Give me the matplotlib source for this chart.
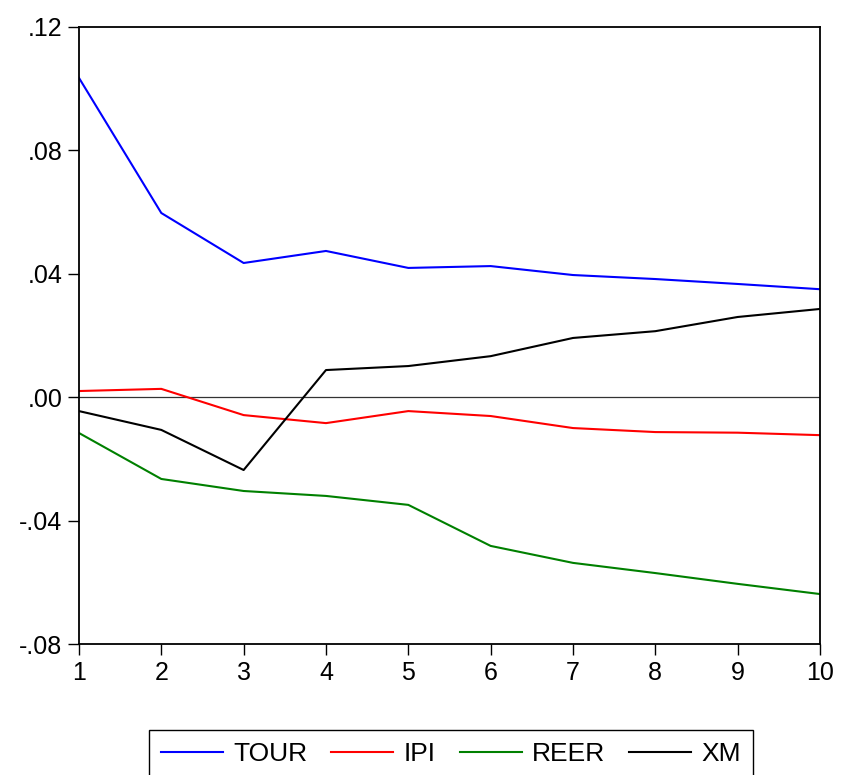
import numpy as np
import matplotlib.pyplot as plt

plt.rcParams['font.family'] = ['Liberation Sans', 'DejaVu Sans']

# response periods
periods = [1, 2, 3, 4, 5, 6, 7, 8, 9, 10]

# impulse responses
tour = [0.1035, 0.0597, 0.0435, 0.0474, 0.0419, 0.0425, 0.0396, 0.0383, 0.0367, 0.0350]
ipi = [0.0020, 0.0027, -0.0058, -0.0084, -0.0045, -0.0061, -0.0100, -0.0113, -0.0115, -0.0123]
reer = [-0.0116, -0.0265, -0.0304, -0.0320, -0.0349, -0.0482, -0.0537, -0.0570, -0.0605, -0.0638]
xm = [-0.0045, -0.0106, -0.0236, 0.0088, 0.0101, 0.0133, 0.0192, 0.0214, 0.0260, 0.0286]

yticks = [0.12, 0.08, 0.04, 0.00, -0.04, -0.08]
ylabels = ['.12', '.08', '.04', '.00', '-.04', '-.08']

fig = plt.figure(figsize=(8.5, 7.75), dpi=100)
ax = fig.add_axes([0.0929, 0.169, 0.8718, 0.7962])

ax.axhline(0, color='#333333', lw=0.9)
ax.plot(periods, tour, color='#0000ff', lw=1.5, label='TOUR')
ax.plot(periods, ipi, color='#ff0000', lw=1.5, label='IPI')
ax.plot(periods, reer, color='#008000', lw=1.5, label='REER')
ax.plot(periods, xm, color='black', lw=1.5, label='XM')

ax.set_xlim(1, 10)
ax.set_ylim(-0.08, 0.12)
ax.set_xticks(periods)
ax.set_yticks(yticks)
ax.set_yticklabels(ylabels)
ax.tick_params(labelsize=18, direction='out', length=8, width=1, pad=4)
for s in ax.spines.values():
    s.set_linewidth(1.3)

leg = fig.legend(loc='upper center', bbox_to_anchor=(0.5306, 1 - 730 / 775), ncol=4,
                 fontsize=19, handlelength=2.35, handletextpad=0.4, columnspacing=0.9,
                 fancybox=False, edgecolor='black', framealpha=1,
                 borderpad=0.45, borderaxespad=0)
leg.get_frame().set_linewidth(1.0)

fig.savefig('out.png', dpi=100)
